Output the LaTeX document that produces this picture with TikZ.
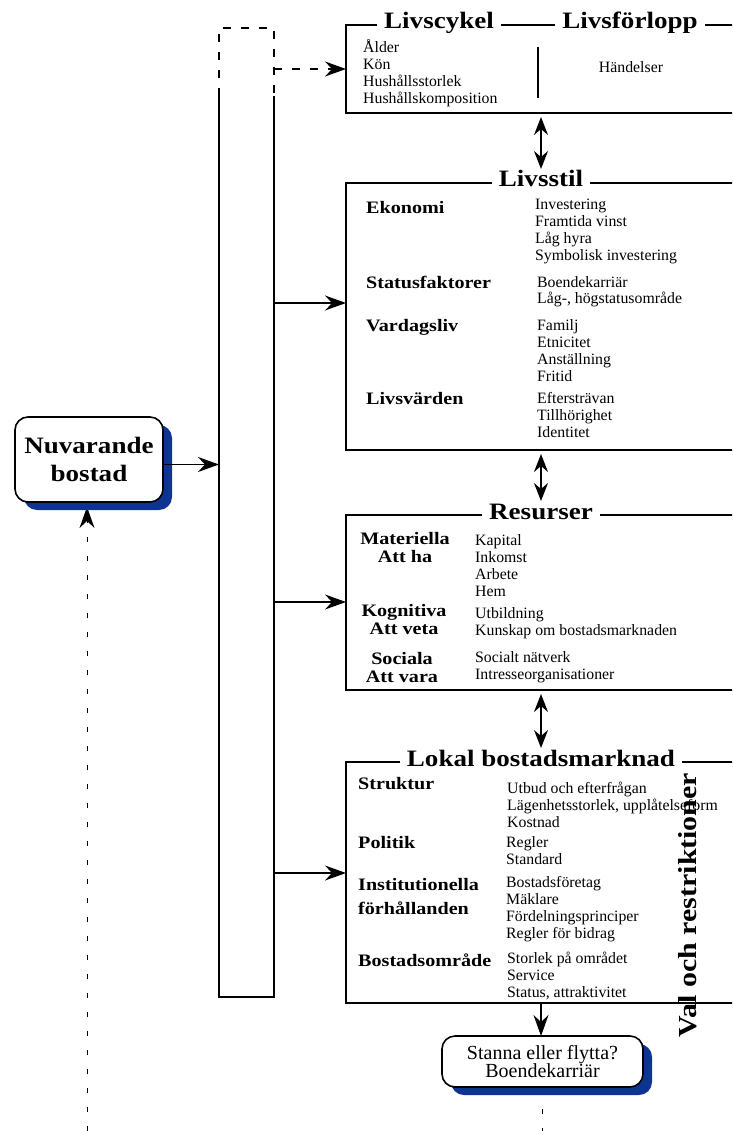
\documentclass[tikz,border=0pt]{standalone}
\usepackage{fontspec}
\setmainfont{Liberation Serif}[BoldFeatures={FakeStretch=1.15}]
\usetikzlibrary{arrows.meta,shadows}
\definecolor{skuggbla}{RGB}{13,52,145}
\tikzset{
  ruta/.style={draw, line width=1.6pt, anchor=north west, inner sep=0pt, outer sep=0pt, minimum width=390pt},
  rubrik/.style={fill=white, anchor=base, inner xsep=7pt, inner ysep=1pt, font=\bfseries\fontsize{23.5}{26}\selectfont},
  grupp/.style={anchor=base west, inner sep=0pt, align=left, font=\bfseries\fontsize{17.5}{18.5}\selectfont},
  lista/.style={anchor=base west, inner sep=0pt, align=left, font=\fontsize{15.8}{17}\selectfont},
  bubbla/.style={draw, line width=1.6pt, rounded corners=13pt, fill=white, align=center, inner sep=0pt, outer sep=0pt,
    drop shadow={shadow xshift=9pt, shadow yshift=-8pt, fill=skuggbla, opacity=1}},
  spets/.style={-{Stealth[length=21pt,width=15pt,inset=7pt]}},
  pil/.style={line width=1.3pt, spets},
  dubbelpil/.style={line width=1.5pt, {Stealth[length=18pt,width=14pt,inset=6pt]}-{Stealth[length=18pt,width=14pt,inset=6pt]}},
  streckad/.style={line width=1.3pt, dash pattern=on 8pt off 10pt},
  glesstreck/.style={line width=1pt, dash pattern=on 5pt off 14pt},
}
\begin{document}
\begin{tikzpicture}[x=1pt, y=-1pt]
  \useasboundingbox (0,0) rectangle (732,1131);
  \clip (0,0) rectangle (732,1131);

  % Left rail
  \node[minimum width=55pt, minimum height=969pt, anchor=north west, inner sep=0pt, outer sep=0pt] (skena) at (219,28) {};
  \coordinate (brott) at (0,96);
  \draw[line width=1.3pt] (skena.west |- brott) -- (skena.south west) -- (skena.south east) -- (skena.east |- brott);
  \draw[streckad] (skena.west |- brott) -- (skena.north west) -- (skena.north east) -- (skena.east |- brott);

  % Livscykel / Livsförlopp (text nodes sit on the baseline of their last line)
  \node[ruta, minimum height=88pt] (livscykel) at (346,25) {};
  \node[rubrik] (t1) at (439,29) {Livscykel};
  \node[rubrik] (t2) at (630,29) {Livsförlopp};
  \draw[line width=1.6pt] (538,47) -- (538,98);
  \node[lista] (ld) at (363,104) {Ålder\\Kön\\Hushållsstorlek\\Hushållskomposition};
  \node[lista, anchor=base] (hand) at (631,73) {Händelser};

  % Livsstil
  \node[ruta, minimum height=267pt] (livsstil) at (346,183) {};
  \node[rubrik] (t3) at (541,187) {Livsstil};
  \node[grupp] (g1) at (366,214) {Ekonomi};
  \node[lista] (l1) at (535,261) {Investering\\Framtida vinst\\Låg hyra\\Symbolisk investering};
  \node[grupp] (g2) at (366,289) {Statusfaktorer};
  \node[lista] (l2) at (537,304) {Boendekarriär\\Låg-, högstatusområde};
  \node[grupp] (g3) at (366,331) {Vardagsliv};
  \node[lista] (l3) at (537,381) {Familj\\Etnicitet\\Anställning\\Fritid};
  \node[grupp] (g4) at (366,404) {Livsvärden};
  \node[lista] (l4) at (537,437) {Eftersträvan\\Tillhörighet\\Identitet};

  % Resurser
  \node[ruta, minimum height=175pt] (resurser) at (346,515) {};
  \node[rubrik] (t4) at (541,519) {Resurser};
  \node[grupp, anchor=base, align=center] (g5) at (405,562.5) {Materiella\\Att ha};
  \node[lista] (l5) at (475,596) {Kapital\\Inkomst\\Arbete\\Hem};
  \node[grupp, anchor=base, align=center] (g6) at (404,634.5) {Kognitiva\\Att veta};
  \node[lista] (l6) at (475,635) {Utbildning\\Kunskap om bostadsmarknaden};
  \node[grupp, anchor=base, align=center] (g7) at (402,682.5) {Sociala\\Att vara};
  \node[lista] (l7) at (475,679) {Socialt nätverk\\Intresseorganisationer};

  % Lokal bostadsmarknad
  \node[ruta, minimum height=241pt] (lokal) at (346,762) {};
  \node[rubrik] (t5) at (541,766) {Lokal bostadsmarknad};
  \node[grupp] (g8) at (358,789) {Struktur};
  \node[lista] (l8) at (507,827) {Utbud och efterfrågan\\Lägenhetsstorlek, upplåtelseform\\Kostnad};
  \node[grupp] (g9) at (358,848) {Politik};
  \node[lista] (l9) at (506,864) {Regler\\Standard};
  \node[grupp, font=\bfseries\fontsize{17.5}{24}\selectfont] (g10) at (358,914) {Institutionella\\förhållanden};
  \node[lista] (l10) at (506,938) {Bostadsföretag\\Mäklare\\Fördelningsprinciper\\Regler för bidrag};
  \node[grupp] (g11) at (358,966) {Bostadsområde};
  \node[lista] (l11) at (507,997) {Storlek på området\\Service\\Status, attraktivitet};

  % Connections between panels
  \draw[dubbelpil] ([yshift=-4pt]livscykel.south) -- ([yshift=14pt]livsstil.north);
  \draw[dubbelpil] ([yshift=-4pt]livsstil.south) -- ([yshift=14pt]resurser.north);
  \draw[dubbelpil] ([yshift=-4pt]resurser.south) -- ([yshift=14pt]lokal.north);

  % From rail to panels
  \draw[streckad, spets] (skena.east |- livscykel.west) -- (livscykel.west);
  \foreach \panel/\y in {livsstil/303, resurser/602, lokal/873}
    \draw[pil] (skena.east |- 0,\y) -- (\panel.west |- 0,\y);

  % Current dwelling
  \coordinate (nere) at (87,1131);
  \draw[glesstreck, spets] (nere) -- (87,507);
  \node[bubbla, minimum width=148pt, minimum height=85pt, font=\bfseries\fontsize{23.5}{28}\selectfont] (nuvarande) at (89,459.5) {Nuvarande\\bostad};
  \draw[pil] ([yshift=-5pt]nuvarande.east) -- ([yshift=-5pt]nuvarande.east -| skena.west);

  % Stay or move
  \coordinate (ut) at (542,1131);
  \draw[glesstreck] (542,1090) -- (ut);
  \node[bubbla, minimum width=201pt, minimum height=51pt, font=\fontsize{20}{18.5}\selectfont] (stanna) at (542.5,1061.5) {Stanna eller flytta?\\Boendekarriär};
  \draw[pil] (lokal.south) -- (lokal.south |- stanna.north);

  \node[rotate=90, inner sep=0pt, font=\bfseries\fontsize{26}{26}\selectfont] (val) at (688,905) {Val och restriktioner};
\end{tikzpicture}
\end{document}
